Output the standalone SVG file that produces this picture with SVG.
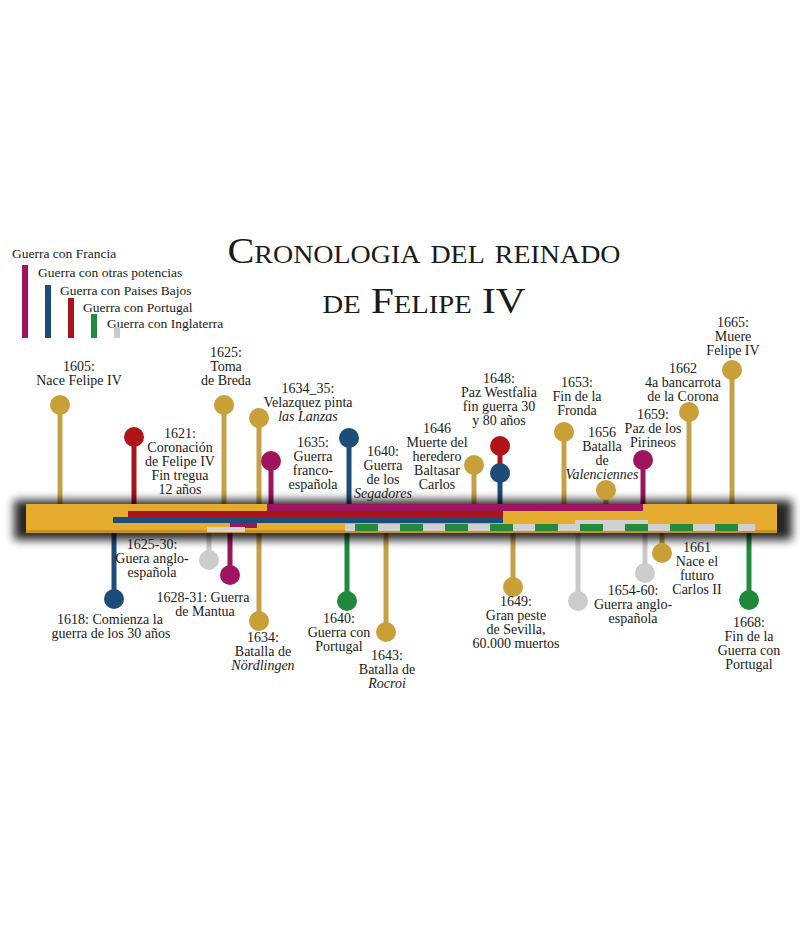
<svg xmlns="http://www.w3.org/2000/svg" width="800" height="926" viewBox="0 0 800 926">
<defs>
<filter id="blur" x="-10%" y="-100%" width="120%" height="300%"><feGaussianBlur stdDeviation="5"/></filter>
<style>
text{font-family:"Liberation Serif","Times New Roman",serif;fill:#1a1a1a;}
.lb{font-size:14px;text-anchor:middle;}
.it{font-style:italic;}
.lg{font-size:13.5px;}
.ttl{font-size:36px;font-variant:small-caps;text-anchor:middle;}
.st{stroke-width:5;fill:none;}
.gold{stroke:#c6a048;}
.mag{stroke:#9c155e;}
.red{stroke:#a8141c;}
.blu{stroke:#1b4d78;}
.grn{stroke:#238a3c;}
.gry{stroke:#c9c9c9;}
.cg{fill:#c9a038;}
.cm{fill:#a0145f;}
.cr{fill:#b01419;}
.cb{fill:#1b4d78;}
.cn{fill:#1f8a3a;}
.cy{fill:#cccccc;}
</style>
</defs>
<rect width="800" height="926" fill="#ffffff"/>

<g id="title">
<text class="ttl" x="424" y="263" textLength="393" lengthAdjust="spacingAndGlyphs">Cronologia del reinado</text>
<text class="ttl" x="424" y="313" textLength="203" lengthAdjust="spacingAndGlyphs">de Felipe IV</text>
</g>

<g id="legend">
<text class="lg" x="12" y="258">Guerra con Francia</text>
<text class="lg" x="38" y="277">Guerra con otras potencias</text>
<text class="lg" x="60" y="295">Guerra con Paises Bajos</text>
<text class="lg" x="83" y="312">Guerra con Portugal</text>
<text class="lg" x="107" y="328">Guerra con Inglaterra</text>
<rect x="22" y="265" width="6" height="73" fill="#9c155e"/>
<rect x="45" y="285" width="6" height="53" fill="#1b4d78"/>
<rect x="68" y="298" width="6" height="40" fill="#a8141c"/>
<rect x="91" y="314" width="6" height="24" fill="#238a3c"/>
<rect x="114" y="327" width="6" height="11" fill="#c9c9c9"/>
</g>

<g id="connectors">
<line class="st gold" x1="60" y1="405" x2="60" y2="506"/>
<line class="st red" x1="134" y1="437" x2="134" y2="506"/>
<line class="st gold" x1="224" y1="405" x2="224" y2="506"/>
<line class="st gold" x1="259" y1="418" x2="259" y2="621"/>
<line class="st mag" x1="271" y1="461" x2="271" y2="506"/>
<line class="st blu" x1="349" y1="438" x2="349" y2="506"/>
<line class="st gold" x1="474" y1="465" x2="474" y2="506"/>
<line class="st red" x1="500" y1="446" x2="500" y2="473"/>
<line class="st blu" x1="500" y1="473" x2="500" y2="506"/>
<line class="st gold" x1="564" y1="432" x2="564" y2="506"/>
<line class="st gold" x1="606" y1="490" x2="606" y2="506"/>
<line class="st mag" x1="643" y1="460" x2="643" y2="506"/>
<line class="st gold" x1="689" y1="412" x2="689" y2="506"/>
<line class="st gold" x1="732" y1="370" x2="732" y2="506"/>
<line class="st blu" x1="114" y1="530" x2="114" y2="599"/>
<line class="st gry" x1="209" y1="530" x2="209" y2="560"/>
<line class="st mag" x1="230" y1="530" x2="230" y2="575"/>
<line class="st grn" x1="347" y1="530" x2="347" y2="601"/>
<line class="st gold" x1="386" y1="530" x2="386" y2="632"/>
<line class="st gold" x1="513" y1="530" x2="513" y2="587"/>
<line class="st gry" x1="578" y1="530" x2="578" y2="601"/>
<line class="st gry" x1="645" y1="530" x2="645" y2="573"/>
<line class="st gold" x1="662" y1="530" x2="662" y2="553"/>
<line class="st grn" x1="749" y1="530" x2="749" y2="600"/>
</g>

<g id="timeline-bar">
<rect x="14" y="500" width="778" height="40" fill="#000" opacity="0.85" filter="url(#blur)"/>
<rect x="26" y="504" width="751" height="29" fill="#e6ac30"/>
<rect x="26" y="530" width="751" height="3" fill="#c8921e"/>
<rect x="267" y="504" width="376" height="7" fill="#9c155e"/>
<rect x="128" y="511" width="375" height="6" fill="#a8141c"/>
<rect x="113" y="517" width="390" height="6" fill="#1b4d78"/>
<rect x="230" y="523" width="27" height="5" fill="#9c155e"/>
<rect x="207" y="527" width="38" height="5" fill="#d4d4d4"/>
<rect x="345" y="524" width="410" height="7" fill="#d0d0d0"/>
<rect x="575" y="520" width="73" height="11" fill="#d0d0d0"/>
<line x1="355" y1="527.5" x2="740" y2="527.5" stroke="#238a3c" stroke-width="7" stroke-dasharray="23 22"/>
</g>

<g id="n1605"><circle class="cg" cx="60" cy="405" r="10"/><text class="lb" x="79" y="371">1605:<tspan x="79" dy="14">Nace Felipe IV</tspan></text></g>
<g id="n1621"><circle class="cr" cx="134" cy="437" r="10"/><text class="lb" x="180" y="438">1621:<tspan x="180" dy="14">Coronación</tspan><tspan x="180" dy="14">de Felipe IV</tspan><tspan x="180" dy="14">Fin tregua</tspan><tspan x="180" dy="14">12 años</tspan></text></g>
<g id="n1625"><circle class="cg" cx="224" cy="405" r="10"/><text class="lb" x="226" y="357">1625:<tspan x="226" dy="14">Toma</tspan><tspan x="226" dy="14">de Breda</tspan></text></g>
<g id="n1634-35"><circle class="cg" cx="259" cy="418" r="10"/><text class="lb" x="308" y="393">1634_35:<tspan x="308" dy="14">Velazquez pinta</tspan><tspan x="308" dy="14" class="it">las Lanzas</tspan></text></g>
<g id="n1635"><circle class="cm" cx="271" cy="461" r="10"/><text class="lb" x="313" y="447">1635:<tspan x="313" dy="14">Guerra</tspan><tspan x="313" dy="14">franco-</tspan><tspan x="313" dy="14">española</tspan></text></g>
<g id="n1640a"><circle class="cb" cx="349" cy="438" r="10"/><text class="lb" x="383" y="456">1640:<tspan x="383" dy="14">Guerra</tspan><tspan x="383" dy="14">de los</tspan><tspan x="383" dy="14" class="it">Segadores</tspan></text></g>
<g id="n1646"><circle class="cg" cx="474" cy="465" r="10"/><text class="lb" x="437" y="433">1646<tspan x="437" dy="14">Muerte del</tspan><tspan x="437" dy="14">heredero</tspan><tspan x="437" dy="14">Baltasar</tspan><tspan x="437" dy="14">Carlos</tspan></text></g>
<g id="n1648"><circle class="cr" cx="500" cy="446" r="10"/><circle class="cb" cx="500" cy="473" r="10"/><text class="lb" x="499" y="383">1648:<tspan x="499" dy="14">Paz Westfalia</tspan><tspan x="499" dy="14">fin guerra 30</tspan><tspan x="499" dy="14">y 80 años</tspan></text></g>
<g id="n1653"><circle class="cg" cx="564" cy="432" r="10"/><text class="lb" x="577" y="387">1653:<tspan x="577" dy="14">Fin de la</tspan><tspan x="577" dy="14">Fronda</tspan></text></g>
<g id="n1656"><circle class="cg" cx="606" cy="490" r="10"/><text class="lb" x="602" y="437">1656<tspan x="602" dy="14">Batalla</tspan><tspan x="602" dy="14">de</tspan><tspan x="602" dy="14" class="it">Valenciennes</tspan></text></g>
<g id="n1659"><circle class="cm" cx="643" cy="460" r="10"/><text class="lb" x="653" y="419">1659:<tspan x="653" dy="14">Paz de los</tspan><tspan x="653" dy="14">Pirineos</tspan></text></g>
<g id="n1662"><circle class="cg" cx="689" cy="412" r="10"/><text class="lb" x="683" y="373">1662<tspan x="683" dy="14">4a bancarrota</tspan><tspan x="683" dy="14">de la Corona</tspan></text></g>
<g id="n1665"><circle class="cg" cx="732" cy="370" r="10"/><text class="lb" x="733" y="327">1665:<tspan x="733" dy="14">Muere</tspan><tspan x="733" dy="14">Felipe IV</tspan></text></g>

<g id="n1618"><circle class="cb" cx="114" cy="599" r="10"/><text class="lb" x="110" y="624">1618: Comienza la<tspan x="111" dy="14">guerra de los 30 años</tspan></text></g>
<g id="n1625-30"><circle class="cy" cx="209" cy="560" r="10"/><text class="lb" x="152" y="549">1625-30:<tspan x="152" dy="14">Guera anglo-</tspan><tspan x="152" dy="14">española</tspan></text></g>
<g id="n1628-31"><circle class="cm" cx="230" cy="575" r="10"/><text class="lb" x="203" y="602">1628-31: Guerra<tspan x="205" dy="14">de Mantua</tspan></text></g>
<g id="n1634"><circle class="cg" cx="259" cy="621" r="10"/><text class="lb" x="263" y="642">1634:<tspan x="263" dy="14">Batalla de</tspan><tspan x="263" dy="14" class="it">Nördlingen</tspan></text></g>
<g id="n1640b"><circle class="cn" cx="347" cy="601" r="10"/><text class="lb" x="339" y="623">1640:<tspan x="339" dy="14">Guerra con</tspan><tspan x="339" dy="14">Portugal</tspan></text></g>
<g id="n1643"><circle class="cg" cx="386" cy="632" r="10"/><text class="lb" x="387" y="660">1643:<tspan x="387" dy="14">Batalla de</tspan><tspan x="387" dy="14" class="it">Rocroi</tspan></text></g>
<g id="n1649"><circle class="cg" cx="513" cy="587" r="10"/><text class="lb" x="516" y="606">1649:<tspan x="516" dy="14">Gran peste</tspan><tspan x="516" dy="14">de Sevilla,</tspan><tspan x="516" dy="14">60.000 muertos</tspan></text></g>
<g id="n1654-60"><circle class="cy" cx="578" cy="601" r="10"/><circle class="cy" cx="645" cy="573" r="10"/><text class="lb" x="633" y="595">1654-60:<tspan x="633" dy="14">Guerra anglo-</tspan><tspan x="633" dy="14">española</tspan></text></g>
<g id="n1661"><circle class="cg" cx="662" cy="553" r="10"/><text class="lb" x="697" y="552">1661<tspan x="697" dy="14">Nace el</tspan><tspan x="697" dy="14">futuro</tspan><tspan x="697" dy="14">Carlos II</tspan></text></g>
<g id="n1668"><circle class="cn" cx="749" cy="600" r="10"/><text class="lb" x="749" y="627">1668:<tspan x="749" dy="14">Fin de la</tspan><tspan x="749" dy="14">Guerra con</tspan><tspan x="749" dy="14">Portugal</tspan></text></g>
</svg>
